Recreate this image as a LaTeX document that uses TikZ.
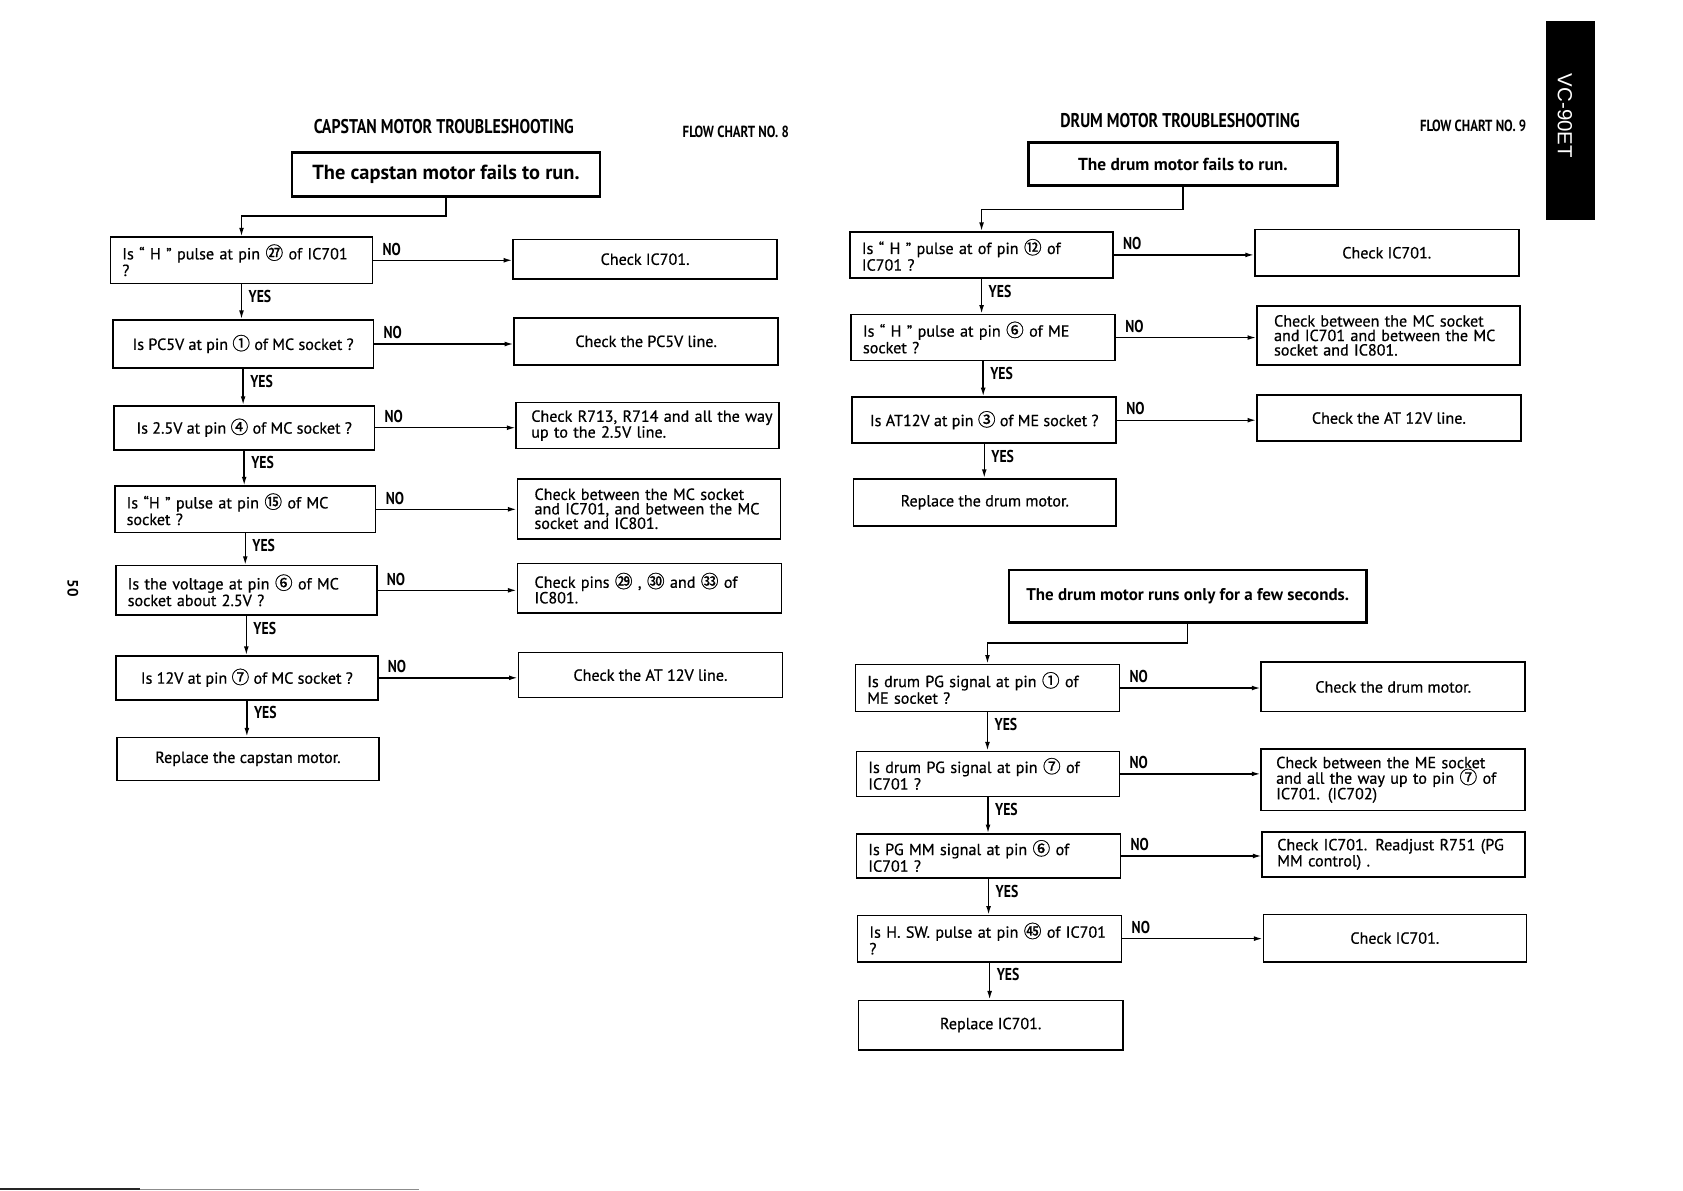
\documentclass[tikz,border=0pt]{standalone}
\usepackage{fontspec}
\setmainfont{PT Sans}[UprightFeatures={FakeBold=0.6}]
\newfontfamily\cjkf{Noto Sans CJK JP}[FakeBold=0.8]
\newfontfamily\condf[FakeStretch=0.8]{PT Sans}
\newfontfamily\vcf{Liberation Sans}
\usetikzlibrary{arrows.meta}
\newcommand\cn[1]{{\cjkf\fontsize{16.5}{15}\selectfont #1}}
\tikzset{
  box/.style={draw, line width=1.5pt, inner ysep=1pt},
  wh/.style n args={2}{minimum width=#1pt, minimum height=#2pt},
  tw/.style={text width=#1pt},
  qm/.style={box, align=left, inner xsep=11pt, font=\fontsize{15}{15.5}\selectfont},
  qs/.style={box, align=center, inner xsep=4pt, font=\fontsize{15}{15.5}\selectfont},
  am/.style={box, align=left, inner xsep=14pt, font=\fontsize{15}{13.5}\selectfont},
  as/.style={box, align=center, font=\fontsize{15}{13.5}\selectfont},
  topbox/.style={draw, line width=2.4pt, align=center},
  lbl/.style={font=\condf\bfseries\fontsize{16}{16}\selectfont, inner sep=0pt},
  link/.style={line width=1.3pt, -{Latex[length=8pt,width=4.5pt]}},
  ttl/.style={font=\condf\bfseries\fontsize{18.5}{20}\selectfont, inner sep=0pt},
  fcl/.style={font=\condf\bfseries\fontsize{15}{16}\selectfont, inner sep=0pt},
}
\begin{document}
\begin{tikzpicture}[x=1pt,y=-1pt]
\useasboundingbox[fill=white] (0,0) rectangle (1568,1109.6);

% ---------- left chart ----------
\node[ttl] (ttl1) at (413.5,118) {CAPSTAN MOTOR TROUBLESHOOTING};
\node[fcl] (fc1) at (685.5,123) {FLOW CHART NO. 8};

\node[topbox, wh={287}{41}, font=\bfseries\fontsize{19}{20}\selectfont] (t1) at (415.5,162.5) {The capstan motor fails to run.};

\node[qm, wh={244}{43}, tw=222] (c1) at (225,242.5) {Is “ H ” pulse at pin \cn{㉗} of IC701\\?};
\node[as, wh={246}{37}] (a1) at (601,241.5) {Check IC701.};
\node[qs, wh={243}{45}] (c2) at (226.5,320.5) {Is PC5V at pin \cn{①} of MC socket ?};
\node[as, wh={246}{44}] (a2) at (602,318) {Check the PC5V line.};
\node[qs, wh={243}{41}] (c3) at (227.5,398.5) {Is 2.5V at pin \cn{④} of MC socket ?};
\node[am, wh={245}{43}, tw=217] (a3) at (603.5,396.5) {\mbox{Check R713, R714 and all the way}\\up to the 2.5V line.};
\node[qm, wh={243}{43}, tw=221] (c4) at (228.5,474.5) {Is “H ” pulse at pin \cn{⑮} of MC\\socket ?};
\node[am, wh={245}{56}, tw=213, inner xsep=16pt] (a4) at (604.5,474) {Check between the MC socket\\and IC701, and between the MC\\socket and IC801.};
\node[qm, wh={243}{46}, tw=221] (c5) at (229.5,550) {Is the voltage at pin \cn{⑥} of MC\\socket about 2.5V ?};
\node[am, wh={246}{46}, tw=214, inner xsep=16pt, font=\fontsize{15}{14.5}\selectfont] (a5) at (605,548) {Check pins \cn{㉙} , \cn{㉚} and \cn{㉝} of\\IC801.};
\node[qs, wh={244}{41}] (c6) at (230,631.5) {Is 12V at pin \cn{⑦} of MC socket ?};
\node[as, wh={246}{42}] (a6) at (606,629) {Check the AT 12V line.};
\node[as, wh={244}{40}] (cr) at (231,707) {Replace the capstan motor.};

\draw[link] (t1.south) -- ++(0,17) -| (c1.north);
\foreach \q/\a in {c1/a1,c2/a2,c3/a3,c4/a4,c5/a5,c6/a6}
  \draw[link] (\q.east) -- (\q.east -| \a.west) node[lbl, pos=0, anchor=south west, xshift=8pt, yshift=4pt] {NO};
\foreach \q/\n in {c1/c2,c2/c3,c3/c4,c4/c5,c5/c6,c6/cr}
  \draw[link] (\q.south) -- (\q.south |- \n.north) node[lbl, pos=0, anchor=north west, xshift=6pt, yshift=-5pt] {YES};

% ---------- right chart ----------
\node[ttl] (ttl2) at (1099.5,112) {DRUM MOTOR TROUBLESHOOTING};
\node[fcl] (fc2) at (1372.5,117) {FLOW CHART NO. 9};

\node[topbox, wh={288}{40}, font=\bfseries\fontsize{16.2}{18}\selectfont] (t2) at (1102,153) {The drum motor fails to run.};

\node[qm, wh={245}{43}, tw=223] (d1) at (914.5,237.5) {Is “ H ” pulse at of pin \cn{⑫} of\\IC701 ?};
\node[as, wh={246}{43}] (b1) at (1292,235.5) {Check IC701.};
\node[qm, wh={246}{43}, tw=224] (d2) at (916,314.5) {Is “ H ” pulse at pin \cn{⑥} of ME\\socket ?};
\node[am, wh={245}{55}, tw=213, inner xsep=16pt] (b2) at (1293.5,312.5) {Check between the MC socket\\and IC701 and between the MC\\socket and IC801.};
\node[qs, wh={246}{43}] (d3) at (917,391.5) {Is AT12V at pin \cn{③} of ME socket ?};
\node[as, wh={246}{43}] (b3) at (1294,389.5) {Check the AT 12V line.};
\node[as, wh={245}{44}] (dr) at (917.5,468) {Replace the drum motor.};

\draw[link] (t2.south) -- ++(0,21) -| (d1.north);
\foreach \q/\a in {d1/b1,d2/b2,d3/b3}
  \draw[link] (\q.east) -- (\q.east -| \a.west) node[lbl, pos=0, anchor=south west, xshift=8pt, yshift=4pt] {NO};
\foreach \q/\n in {d1/d2,d2/d3,d3/dr}
  \draw[link] (\q.south) -- (\q.south |- \n.north) node[lbl, pos=0, anchor=north west, xshift=6pt, yshift=-5pt] {YES};

\node[topbox, wh={333}{49}, font=\bfseries\fontsize{15.8}{18}\selectfont] (t3) at (1106.5,555.5) {The drum motor runs only for a few seconds.};

\node[qm, wh={246}{44}, tw=224] (e1) at (920,641) {Is drum PG signal at pin \cn{①} of\\ME socket ?};
\node[as, wh={246}{46}] (f1) at (1298,640) {Check the drum motor.};
\node[qm, wh={245}{42}, tw=223] (e2) at (920.5,721) {Is drum PG signal at pin \cn{⑦} of\\IC701 ?};
\node[am, wh={246}{57}, tw=218, font=\fontsize{15}{14.5}\selectfont] (f2) at (1298,726.5) {Check between the ME socket\\and all the way up to pin \cn{⑦} of\\IC701. (IC702)};
\node[qm, wh={246}{41}, tw=224] (e3) at (921,797.5) {Is PG MM signal at pin \cn{⑥} of\\IC701 ?};
\node[am, wh={245}{42}, tw=217] (f3) at (1298.5,796) {Check IC701. Readjust R751 (PG\\MM control) .};
\node[qm, wh={246}{43}, tw=224] (e4) at (922,874.5) {Is H. SW. pulse at pin \cn{㊺} of IC701\\?};
\node[as, wh={245}{44}] (f4) at (1299.5,874) {Check IC701.};
\node[as, wh={246}{46}] (er) at (923,955) {Replace IC701.};

\draw[link] (t3.south) -- ++(0,18) -| (e1.north);
\foreach \q/\a in {e1/f1,e2/f2,e3/f3,e4/f4}
  \draw[link] (\q.east) -- (\q.east -| \a.west) node[lbl, pos=0, anchor=south west, xshift=8pt, yshift=4pt] {NO};
\foreach \q/\n in {e1/e2,e2/e3,e3/e4,e4/er}
  \draw[link] (\q.south) -- (\q.south |- \n.north) node[lbl, pos=0, anchor=north west, xshift=6pt, yshift=-5pt] {YES};

% ---------- page decorations ----------
\fill[black] (1440,20) rectangle (1486,205);
\node[rotate=-90, text=white, font=\vcf\fontsize{19}{20}\selectfont, inner sep=0pt] (vc) at (1458,108) {VC-90ET};
\node[rotate=-90, font=\bfseries\fontsize{14}{14}\selectfont, inner sep=0pt] (pg) at (68,548) {50};
\draw[line width=1.6pt, black!85] (0,1108) -- (130,1108);
\draw[line width=1pt, black!45] (130,1108) -- (390,1108);
\end{tikzpicture}
\end{document}
